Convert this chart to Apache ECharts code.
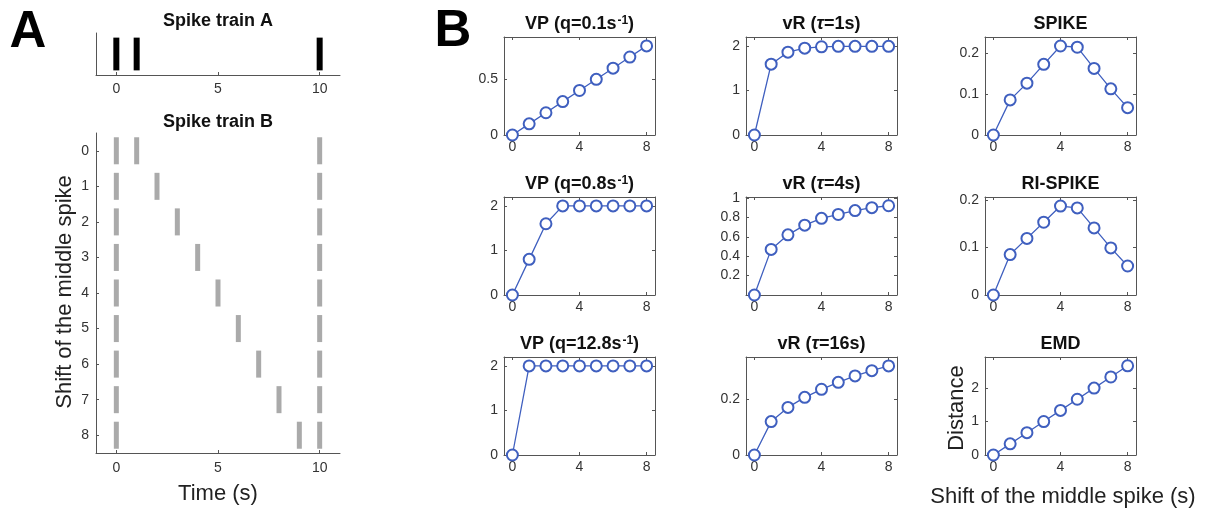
<!DOCTYPE html>
<html><head><meta charset="utf-8">
<script src="https://cdn.jsdelivr.net/npm/echarts@6/dist/echarts.min.js"></script>
<style>html,body{margin:0;padding:0;background:#fff}#c{width:1211px;height:508px}</style>
</head><body><div id="c"></div>
<script>
// ---------- data ----------
const trainA = [0, 1, 10];                       // spike times (s) of train A
const trainBFixed = [0, 10];                     // fixed spikes of train B
const shiftRows = [0, 1, 2, 3, 4, 5, 6, 7, 8];   // shift of middle spike (rows)
const trainBMiddle = [1, 2, 3, 4, 5, 6, 7, 8, 9];// middle-spike time per row
const shifts = [0, 1, 2, 3, 4, 5, 6, 7, 8];
const vp01   = [0, 0.1, 0.2, 0.3, 0.4, 0.5, 0.6, 0.7, 0.8];
const vr1    = [0, 1.59, 1.86, 1.95, 1.98, 1.99, 1.99, 1.99, 1.99];
const spike  = [0, 0.086, 0.127, 0.173, 0.218, 0.215, 0.163, 0.113, 0.067];
const vp08   = [0, 0.8, 1.6, 2, 2, 2, 2, 2, 2];
const vr4    = [0, 0.47, 0.62, 0.72, 0.79, 0.83, 0.87, 0.90, 0.92];
const rispike= [0, 0.085, 0.119, 0.153, 0.187, 0.183, 0.141, 0.099, 0.061];
const vp128  = [0, 2, 2, 2, 2, 2, 2, 2, 2];
const vr16   = [0, 0.12, 0.171, 0.207, 0.236, 0.261, 0.284, 0.303, 0.32];
const emd    = [0, 0.333, 0.667, 1, 1.333, 1.667, 2, 2.333, 2.667];
const timeTicks = [0, 5, 10];
const shiftTicks = [0, 4, 8];

// ---------- panel specs ----------
const FONT = "'Liberation Sans', Arial, sans-serif";
const AX = '#555';
const LBL = '#333';
const BLUE = '#3f5fbf';
const panels = [
  {title: 'VP (q=0.1s{sup|-1})', data: vp01, ymax: 0.88, yt: [0, 0.5]},
  {title: 'vR ({it|τ}=1s)', data: vr1, ymax: 2.2, yt: [0, 1, 2]},
  {title: 'SPIKE', data: spike, ymax: 0.24, yt: [0, 0.1, 0.2]},
  {title: 'VP (q=0.8s{sup|-1})', data: vp08, ymax: 2.2, yt: [0, 1, 2]},
  {title: 'vR ({it|τ}=4s)', data: vr4, ymax: 1.01, yt: [0.2, 0.4, 0.6, 0.8, 1]},
  {title: 'RI-SPIKE', data: rispike, ymax: 0.206, yt: [0, 0.1, 0.2]},
  {title: 'VP (q=12.8s{sup|-1})', data: vp128, ymax: 2.2, yt: [0, 1, 2]},
  {title: 'vR ({it|τ}=16s)', data: vr16, ymax: 0.352, yt: [0, 0.2]},
  {title: 'EMD', data: emd, ymax: 2.93, yt: [0, 1, 2]}
];
const colLeft = [504, 746, 985], colW = 151;
const rowTop = [37, 197, 357], rowH = 98;

const grid = [
  {left: 96, top: 33, width: 244, height: 42},
  {left: 96, top: 133, width: 244, height: 320}
];
const xAxis = [], yAxis = [], series = [], graphic = [];

function tickCfg(vals, show) {
  return {show: show, inside: true, length: 3, customValues: vals, lineStyle: {color: AX}};
}
// Panel A top
xAxis.push({gridIndex: 0, type: 'value', min: -1, max: 11,
  axisLine: {show: true, onZero: false, lineStyle: {color: AX}},
  axisTick: tickCfg(timeTicks, true),
  axisLabel: {customValues: timeTicks, color: LBL, fontSize: 14, fontFamily: FONT, margin: 7},
  splitLine: {show: false}});
yAxis.push({gridIndex: 0, type: 'value', min: 0, max: 1,
  axisLine: {show: true, onZero: false, lineStyle: {color: AX}}, axisTick: {show: false},
  axisLabel: {show: false}, splitLine: {show: false}});
// Panel A bottom
xAxis.push({gridIndex: 1, type: 'value', min: -1, max: 11,
  axisLine: {show: true, onZero: false, lineStyle: {color: AX}},
  axisTick: tickCfg(timeTicks, true),
  axisLabel: {customValues: timeTicks, color: LBL, fontSize: 14, fontFamily: FONT, margin: 8},
  splitLine: {show: false}});
yAxis.push({gridIndex: 1, type: 'value', min: -0.5, max: 8.5, inverse: true,
  axisLine: {show: true, onZero: false, lineStyle: {color: AX}},
  axisTick: tickCfg(shiftRows, true),
  axisLabel: {customValues: shiftRows, color: LBL, fontSize: 14, fontFamily: FONT, margin: 7},
  splitLine: {show: false}});

function spikeRender(half, w, color) {
  return function (params, api) {
    const x = api.value(0), y = api.value(1);
    const a = api.coord([x, y - half]), b = api.coord([x, y + half]);
    return {type: 'rect',
      shape: {x: a[0] - w / 2, y: Math.min(a[1], b[1]), width: w, height: Math.abs(b[1] - a[1])},
      style: {fill: color}};
  };
}
series.push({type: 'custom', xAxisIndex: 0, yAxisIndex: 0,
  data: trainA.map(t => [t, 0.5]), renderItem: spikeRender(0.39, 6, '#000'), clip: false});
const bData = [];
shiftRows.forEach((r, i) => {
  trainBFixed.forEach(t => bData.push([t, r]));
  bData.push([trainBMiddle[i], r]);
});
series.push({type: 'custom', xAxisIndex: 1, yAxisIndex: 1,
  data: bData, renderItem: spikeRender(0.38, 5, '#aaaaaa'), clip: false});

// Panel B
panels.forEach((p, k) => {
  const r = Math.floor(k / 3), c = k % 3;
  const gi = grid.length;
  grid.push({left: colLeft[c], top: rowTop[r], width: colW, height: rowH});
  const xi = xAxis.length, yi = yAxis.length;
  const lineS = {show: true, onZero: false, lineStyle: {color: AX}};
  xAxis.push({gridIndex: gi, type: 'value', min: -0.5, max: 8.5, position: 'bottom',
    axisLine: lineS, axisTick: tickCfg(shiftTicks, true),
    axisLabel: {customValues: shiftTicks, color: LBL, fontSize: 14, fontFamily: FONT, margin: 5},
    splitLine: {show: false}});
  xAxis.push({gridIndex: gi, type: 'value', min: -0.5, max: 8.5, position: 'top',
    axisLine: lineS, axisTick: tickCfg(shiftTicks, true), axisLabel: {show: false},
    splitLine: {show: false}});
  yAxis.push({gridIndex: gi, type: 'value', min: 0, max: p.ymax, position: 'left',
    axisLine: lineS, axisTick: tickCfg(p.yt, true),
    axisLabel: {customValues: p.yt, color: LBL, fontSize: 14, fontFamily: FONT, margin: 6},
    splitLine: {show: false}});
  yAxis.push({gridIndex: gi, type: 'value', min: 0, max: p.ymax, position: 'right',
    axisLine: lineS, axisTick: tickCfg(p.yt, true), axisLabel: {show: false},
    splitLine: {show: false}});
  series.push({type: 'line', xAxisIndex: xi, yAxisIndex: yi,
    data: shifts.map((s, j) => [s, p.data[j]]),
    symbol: 'emptyCircle', symbolSize: 11, showAllSymbol: true, clip: false,
    lineStyle: {color: BLUE, width: 1.3},
    itemStyle: {color: BLUE, borderColor: BLUE, borderWidth: 1.7}});
  graphic.push({type: 'text', x: colLeft[c] + colW / 2, y: rowTop[r] - 13,
    style: {text: p.title, align: 'center', verticalAlign: 'middle', fill: '#111',
      font: 'bold 18px ' + FONT,
      rich: {
        sup: {fontSize: 12, fontWeight: 'bold', fontFamily: FONT, verticalAlign: 'top', fill: '#111', padding: [0, 0, 0, 1]},
        it: {fontSize: 18, fontWeight: 'bold', fontStyle: 'italic', fontFamily: FONT, fill: '#111'}
      }}});
});

// Titles and labels for panel A and figure
graphic.push({type: 'text', x: 218, y: 21, style: {text: 'Spike train A', align: 'center', verticalAlign: 'middle', fill: '#111', font: 'bold 18px ' + FONT}});
graphic.push({type: 'text', x: 218, y: 122, style: {text: 'Spike train B', align: 'center', verticalAlign: 'middle', fill: '#111', font: 'bold 18px ' + FONT}});
graphic.push({type: 'text', x: 28, y: 33, style: {text: 'A', align: 'center', verticalAlign: 'middle', fill: '#000', font: 'bold 51px ' + FONT}});
graphic.push({type: 'text', x: 453, y: 32, style: {text: 'B', align: 'center', verticalAlign: 'middle', fill: '#000', font: 'bold 51px ' + FONT}});
graphic.push({type: 'text', x: 218, y: 494, style: {text: 'Time (s)', align: 'center', verticalAlign: 'middle', fill: '#222', font: '22px ' + FONT}});
graphic.push({type: 'text', x: 65, y: 292, rotation: Math.PI / 2, style: {text: 'Shift of the middle spike', align: 'center', verticalAlign: 'middle', fill: '#222', font: '22px ' + FONT}});
graphic.push({type: 'text', x: 957, y: 408, rotation: Math.PI / 2, style: {text: 'Distance', align: 'center', verticalAlign: 'middle', fill: '#222', font: '22px ' + FONT}});
graphic.push({type: 'text', x: 1063, y: 497, style: {text: 'Shift of the middle spike (s)', align: 'center', verticalAlign: 'middle', fill: '#222', font: '22px ' + FONT}});

const chart = echarts.init(document.getElementById('c'), null, {renderer: 'canvas'});
chart.setOption({animation: false, backgroundColor: '#fff', grid, xAxis, yAxis, series, graphic});
</script></body></html>
